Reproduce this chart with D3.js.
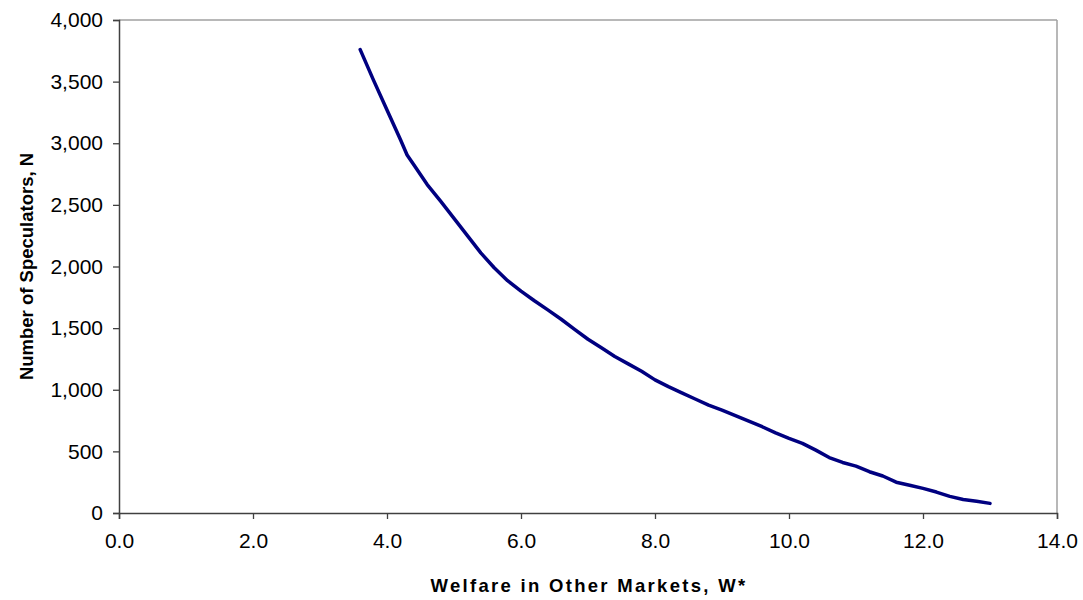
<!DOCTYPE html>
<html>
<head>
<meta charset="utf-8">
<script src="https://cdn.jsdelivr.net/npm/d3@7"></script>
<style>
  html, body { margin: 0; padding: 0; background: #fff; }
  svg { display: block; }
  text { font-family: "Liberation Sans", Arial, sans-serif; fill: #000; }
</style>
</head>
<body>
<svg id="chart" width="1083" height="600"></svg>
<script>
// Data
const welfare = [3.6, 3.8, 4.0, 4.2, 4.3, 4.4, 4.6, 4.8, 5.0, 5.2, 5.4, 5.6, 5.8, 6.0, 6.2, 6.4, 6.6, 6.8, 7.0,
  7.2, 7.4, 7.6, 7.8, 8.0, 8.2, 8.4, 8.6, 8.8, 9.0, 9.2, 9.4, 9.6, 9.8, 10.0, 10.2, 10.4, 10.6,
  10.8, 11.0, 11.2, 11.4, 11.6, 11.8, 12.0, 12.2, 12.4, 12.6, 12.8, 13.0];
const speculators = [3760, 3510, 3270, 3030, 2905, 2825, 2665, 2530, 2390, 2250, 2110, 1990, 1885, 1800, 1722, 1648, 1572, 1490, 1410,
  1340, 1270, 1210, 1150, 1080, 1025, 975, 925, 875, 835, 790, 745, 700, 650, 605, 565, 510, 450,
  410, 380, 335, 300, 250, 225, 200, 170, 135, 110, 95, 78];
const xTicks = [0, 2, 4, 6, 8, 10, 12, 14];
const yTicks = [0, 500, 1000, 1500, 2000, 2500, 3000, 3500, 4000];
const xTitle = "Welfare in Other Markets, W*";
const yTitle = "Number of Speculators, N";

const svg = d3.select("#chart");
const plotL = 119, plotR = 1057, plotT = 20, plotB = 513;

const x = d3.scaleLinear().domain([0, 14]).range([plotL, plotR]);
const y = d3.scaleLinear().domain([0, 4000]).range([plotB, plotT]);

// Plot frame (grey top/right)
svg.append("line").attr("x1", plotL).attr("x2", plotR).attr("y1", plotT).attr("y2", plotT)
  .attr("stroke", "#a0a0a0").attr("stroke-width", 1.5);
svg.append("line").attr("x1", plotR).attr("x2", plotR).attr("y1", plotT).attr("y2", plotB)
  .attr("stroke", "#a0a0a0").attr("stroke-width", 1.5);

// Axes
const xAxis = d3.axisBottom(x).tickValues(xTicks).tickFormat(d3.format(".1f")).tickSizeOuter(0).tickSize(6).tickPadding(14);
const yAxis = d3.axisLeft(y).tickValues(yTicks).tickFormat(d3.format(",")).tickSizeOuter(0).tickSize(6).tickPadding(10);

const gx = svg.append("g").attr("transform", `translate(0,${plotB})`).call(xAxis);
const gy = svg.append("g").attr("transform", `translate(${plotL},0)`).call(yAxis);

[gx, gy].forEach(g => {
  g.selectAll("path.domain").attr("stroke", "#404040").attr("stroke-width", 1.5);
  g.selectAll(".tick line").attr("stroke", "#404040").attr("stroke-width", 1.3);
  g.selectAll(".tick text").attr("font-size", 21).attr("font-family", "Liberation Sans, Arial, sans-serif").attr("fill", "#000");
});

// Line
const line = d3.line().x((d, i) => x(welfare[i])).y(d => y(d));
svg.append("path").datum(speculators)
  .attr("d", line)
  .attr("fill", "none")
  .attr("stroke", "#000080")
  .attr("stroke-width", 3.5)
  .attr("stroke-linejoin", "round")
  .attr("stroke-linecap", "round");

// Axis titles
svg.append("text")
  .attr("x", (plotL + plotR) / 2 + 1).attr("y", 592)
  .attr("text-anchor", "middle")
  .attr("font-size", 18.5).attr("font-weight", "bold")
  .attr("letter-spacing", "2.3px")
  .text(xTitle);

svg.append("text")
  .attr("transform", `translate(33,${(plotT + plotB) / 2}) rotate(-90)`)
  .attr("text-anchor", "middle")
  .attr("font-size", 18.5).attr("font-weight", "bold")
  .text(yTitle);
</script>
</body>
</html>
